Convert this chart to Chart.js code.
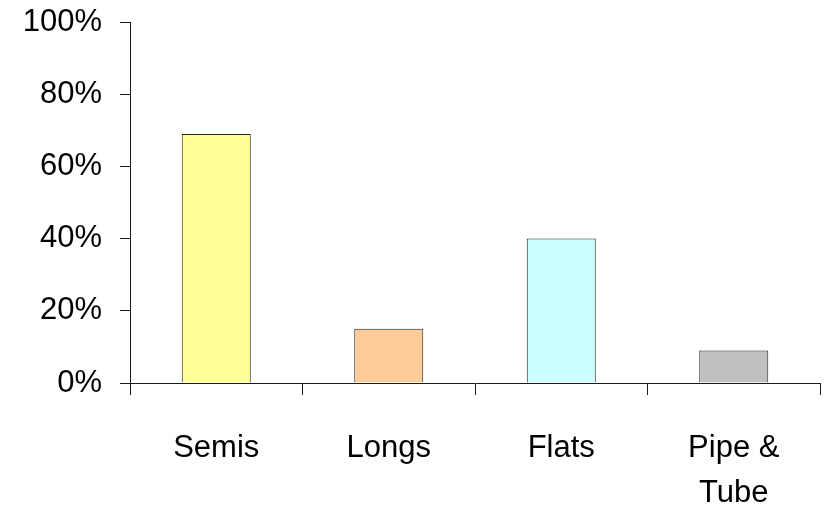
<!DOCTYPE html>
<html>
<head>
<meta charset="utf-8">
<script src="https://cdn.jsdelivr.net/npm/chart.js@4/dist/chart.umd.min.js"></script>
<style>
  html, body { margin: 0; padding: 0; background: #ffffff; }
  #wrap { width: 825px; height: 505px; }
</style>
</head>
<body>
<div id="wrap"><canvas id="c" width="825" height="505"></canvas></div>
<script>
// Share of each product group (percent)
const categories = ['Semis', 'Longs', 'Flats', ['Pipe &', 'Tube']];
const shares = [69, 15, 40, 9];
const barColors = ['#FFFF99', '#FFCC99', '#CCFFFF', '#C0C0C0'];
const yTicks = [0, 20, 40, 60, 80, 100];

const axisColor = '#1a1a1a';
const tickFont = { family: '"Liberation Sans", Arial, sans-serif', size: 31 };

new Chart(document.getElementById('c'), {
  type: 'bar',
  data: {
    labels: categories,
    datasets: [{
      data: shares,
      backgroundColor: barColors,
      borderColor: '#222222',
      borderWidth: 1,
      categoryPercentage: 0.8,
      barPercentage: 0.5
    }]
  },
  options: {
    responsive: false,
    devicePixelRatio: 1,
    animation: false,
    layout: { padding: { left: 0, right: 5, top: 22, bottom: 0 } },
    plugins: { legend: { display: false }, tooltip: { enabled: false } },
    scales: {
      x: {
        grid: {
          offset: true,
          drawOnChartArea: false,
          drawTicks: true,
          tickLength: 12,
          color: axisColor,
          lineWidth: 1
        },
        border: { color: axisColor, width: 1 },
        ticks: {
          color: '#000',
          font: Object.assign({}, tickFont, { lineHeight: 1.45 }),
          padding: 31,
          maxRotation: 0,
          autoSkip: false
        },
        afterFit: s => { s.height = 122; s.paddingLeft = 0; s.paddingRight = 0; }
      },
      y: {
        min: 0,
        max: 100,
        afterBuildTicks: s => { s.ticks = yTicks.map(v => ({ value: v })); },
        grid: {
          drawOnChartArea: false,
          drawTicks: true,
          tickLength: 10,
          color: axisColor,
          lineWidth: 1
        },
        border: { color: axisColor, width: 1 },
        ticks: {
          color: '#000',
          font: tickFont,
          padding: 18,
          callback: v => v + '%'
        },
        afterFit: s => { s.width = 130; s.paddingTop = 0; s.paddingBottom = 0; }
      }
    }
  }
});
</script>
</body>
</html>
